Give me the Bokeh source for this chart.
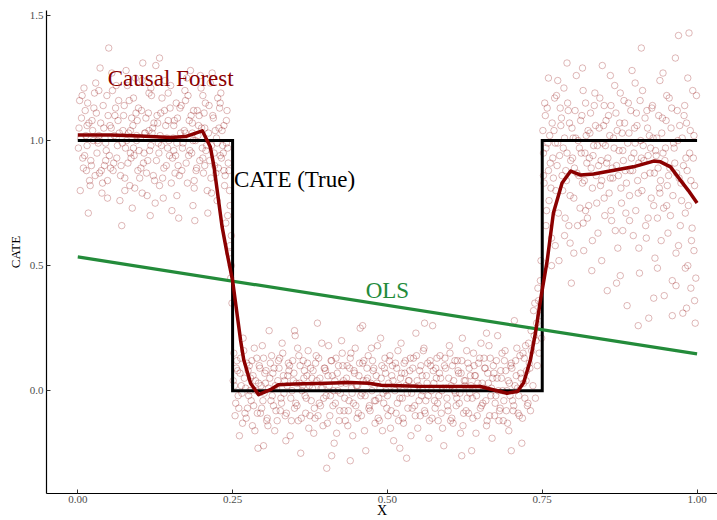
from bokeh.plotting import figure
from bokeh.models import ColumnDataSource, FixedTicker, Range1d
from bokeh.core.properties import value
from bokeh.embed import file_html
from bokeh.resources import INLINE

# ---- data ----
# scatter of estimated individual effects (hand-estimated sample of the cloud)
left_x = [0.002,0.008,0.012,0.015,0.019,0.023,0.027,0.031,0.034,0.038,
          0.041,0.045,0.048,0.052,0.055,0.058,0.062,0.066,0.069,0.073,
          0.077,0.080,0.084,0.087,0.091,0.095,0.098,0.102,0.105,0.109,
          0.112,0.116,0.119,0.123,0.127,0.130,0.134,0.137,0.141,0.144,
          0.148,0.152,0.155,0.159,0.162,0.166,0.169,0.173,0.177,0.180,
          0.184,0.187,0.191,0.194,0.198,0.202,0.205,0.209,0.212,0.216,
          0.219,0.223,0.226,0.230,0.233,0.237,0.240,0.243,0.246,0.248,
          0.004,0.010,0.017,0.025,0.036,0.043,0.050,0.060,0.071,0.082,
          0.093,0.100,0.114,0.125,0.132,0.146,0.157,0.171,0.182,0.189,
          0.196,0.207,0.214,0.221,0.228,0.235,0.241,0.244,0.247,0.249]
left_y = [1.05,0.93,1.12,0.98,0.84,1.08,1.19,0.95,1.02,0.88,
          1.14,0.99,0.77,1.06,1.27,0.91,1.01,1.16,0.86,1.04,
          0.97,1.22,0.82,1.09,0.94,1.00,1.13,0.89,1.31,1.03,
          0.78,0.96,1.18,1.07,0.92,0.99,1.11,0.85,1.24,1.01,
          0.94,0.72,1.06,1.15,0.90,1.03,0.97,1.20,0.83,1.08,
          0.95,1.12,0.88,1.02,1.26,0.93,1.05,0.80,1.14,0.98,
          1.09,0.87,1.17,0.94,1.04,0.82,0.99,0.91,0.74,0.62,
          0.80,1.21,0.71,1.00,1.29,0.90,1.37,1.10,0.66,1.03,
          1.25,0.85,1.11,0.75,1.33,1.08,0.87,1.01,1.28,0.68,
          1.10,0.96,1.23,0.90,1.05,0.95,1.12,0.55,0.45,0.35]
left2_pts = [(0.001,0.97),(0.006,1.09),(0.009,0.89),(0.013,1.02),(0.016,1.15),(0.021,0.92),(0.024,1.04),(0.028,0.86),(0.030,1.11),(0.033,0.99),
             (0.037,1.07),(0.040,0.83),(0.044,1.01),(0.047,1.18),(0.051,0.94),(0.054,1.05),(0.057,0.88),(0.061,1.13),(0.064,0.98),(0.067,1.03),
             (0.070,0.90),(0.074,1.10),(0.076,0.85),(0.079,1.00),(0.083,1.16),(0.086,0.93),(0.089,1.06),(0.092,0.81),(0.096,1.08),(0.099,0.96),
             (0.103,1.12),(0.106,0.91),(0.108,1.03),(0.111,0.87),(0.115,1.19),(0.118,0.98),(0.121,1.05),(0.124,0.84),(0.128,1.10),(0.131,0.95),
             (0.133,1.02),(0.136,1.17),(0.139,0.89),(0.142,1.06),(0.145,0.97),(0.149,1.13),(0.151,0.83),(0.154,1.01),(0.158,0.94),(0.161,1.09),
             (0.164,0.86),(0.167,1.14),(0.170,0.99),(0.172,1.04),(0.175,0.91),(0.178,1.18),(0.181,0.96),(0.185,1.07),(0.188,0.84),(0.190,1.00),
             (0.193,1.12),(0.197,0.92),(0.200,1.05),(0.203,0.87),(0.206,1.15),(0.208,0.98),(0.211,1.03),(0.215,0.85),(0.218,1.10),(0.220,0.95),
             (0.224,1.01),(0.227,0.89),(0.229,1.13),(0.232,0.93),(0.236,1.06),(0.238,0.86),(0.242,0.97),(0.245,0.80),(0.003,1.16),(0.014,0.88),
             (0.029,1.23),(0.039,0.79),(0.056,1.20),(0.068,0.76),(0.078,1.28),(0.088,0.73),(0.104,1.24),(0.117,0.70),(0.126,1.30),(0.138,0.77),
             (0.150,1.22),(0.163,0.69),(0.176,1.25),(0.186,0.74),(0.199,1.21),(0.210,0.71),(0.217,1.27),(0.225,0.76),(0.231,1.19),(0.239,0.67)]
left3_pts = [(0.005,1.01),(0.011,0.94),(0.018,1.07),(0.022,0.90),(0.026,1.13),(0.032,1.00),(0.035,0.87),(0.042,1.05),(0.046,0.96),(0.049,1.10),
             (0.053,0.89),(0.059,1.02),(0.063,0.93),(0.065,1.08),(0.072,0.99),(0.075,1.14),(0.081,0.91),(0.085,1.04),(0.090,0.97),(0.094,1.11),
             (0.097,0.88),(0.101,1.01),(0.107,0.95),(0.110,1.09),(0.113,0.92),(0.120,1.03),(0.122,0.86),(0.129,1.07),(0.135,0.98),(0.140,1.12),
             (0.143,0.90),(0.147,1.00),(0.153,0.93),(0.156,1.08),(0.160,0.99),(0.165,1.13),(0.168,0.88),(0.174,1.03),(0.179,0.94),(0.183,1.10),
             (0.186,1.00),(0.192,0.89),(0.195,1.06),(0.201,0.97),(0.204,1.11),(0.213,0.92),(0.222,1.04),(0.234,0.98),(0.240,1.08),(0.244,0.88),
             (0.007,1.18),(0.020,0.82),(0.034,1.20),(0.048,0.84),(0.062,1.22),(0.076,0.80),(0.090,1.17),(0.104,0.79),(0.118,1.21),(0.132,0.82),
             (0.146,1.19),(0.160,0.78),(0.174,1.16),(0.188,0.81),(0.202,1.18),(0.216,0.79),(0.230,1.15),(0.242,0.70),(0.246,0.58),(0.248,0.50),
             (0.015,1.06),(0.045,0.92),(0.085,0.95),(0.115,1.04),(0.155,0.96),(0.185,1.03),(0.205,0.90),(0.225,0.99),(0.236,0.88),(0.095,1.02)]
mid_x = [0.252,0.255,0.258,0.261,0.264,0.267,0.270,0.273,0.276,0.279,
         0.282,0.285,0.288,0.291,0.294,0.297,0.300,0.303,0.306,0.309,
         0.312,0.315,0.318,0.321,0.324,0.327,0.330,0.333,0.336,0.339,
         0.342,0.345,0.348,0.351,0.354,0.357,0.360,0.363,0.366,0.369,
         0.372,0.375,0.378,0.381,0.384,0.387,0.390,0.393,0.396,0.399,
         0.402,0.405,0.408,0.411,0.414,0.417,0.420,0.423,0.426,0.429,
         0.432,0.435,0.438,0.441,0.444,0.447,0.450,0.453,0.456,0.459,
         0.462,0.465,0.468,0.471,0.474,0.477,0.480,0.483,0.486,0.489,
         0.492,0.495,0.498,0.501,0.504,0.507,0.510,0.513,0.516,0.519,
         0.522,0.525,0.528,0.531,0.534,0.537,0.540,0.543,0.546,0.549,
         0.552,0.555,0.558,0.561,0.564,0.567,0.570,0.573,0.576,0.579,
         0.582,0.585,0.588,0.591,0.594,0.597,0.600,0.603,0.606,0.609,
         0.612,0.615,0.618,0.621,0.624,0.627,0.630,0.633,0.636,0.639,
         0.642,0.645,0.648,0.651,0.654,0.657,0.660,0.663,0.666,0.669,
         0.672,0.675,0.678,0.681,0.684,0.687,0.690,0.693,0.696,0.699,
         0.702,0.705,0.708,0.711,0.714,0.717,0.720,0.723,0.726,0.729,
         0.732,0.736,0.740,0.743,0.746,0.748,0.745,0.738]
mid_y = [0.15,-0.05,0.08,-0.18,0.02,0.21,-0.09,0.11,-0.02,0.05,
         -0.14,0.17,0.00,-0.23,0.09,-0.07,0.13,0.03,-0.11,0.24,
         -0.04,0.07,-0.16,0.01,0.12,-0.08,0.19,-0.01,-0.20,0.06,
         0.10,-0.12,0.04,0.22,-0.06,0.14,-0.25,0.02,0.08,-0.03,
         0.16,-0.10,0.05,-0.17,0.11,0.27,-0.05,0.01,-0.14,0.09,
         -0.31,0.18,-0.02,0.06,-0.21,0.13,0.00,-0.08,0.20,0.04,
         -0.12,0.10,-0.04,0.15,-0.18,0.07,0.02,-0.09,0.25,-0.01,
         0.12,-0.24,0.05,-0.06,0.17,0.08,-0.13,0.03,-0.03,0.21,
         -0.16,0.09,0.00,-0.10,0.14,0.06,-0.20,0.11,-0.05,0.02,
         0.19,-0.11,0.07,-0.27,0.04,0.13,-0.07,0.01,0.23,-0.15,
         0.08,-0.02,0.16,-0.09,0.03,-0.19,0.10,0.26,-0.04,0.05,
         -0.12,0.14,0.00,-0.22,0.09,-0.06,0.18,0.02,-0.13,0.12,
         -0.03,0.07,-0.17,0.21,0.04,-0.08,0.11,-0.01,-0.24,0.15,
         0.06,-0.10,0.01,0.19,-0.05,0.09,-0.14,0.03,0.13,-0.19,
         0.07,-0.02,0.22,-0.08,0.05,-0.12,0.16,0.00,-0.16,0.10,
         -0.04,0.28,0.06,-0.09,0.14,-0.21,0.03,0.18,-0.06,0.11,
         0.24,0.32,0.20,0.41,0.30,0.52,0.15,0.35]
mid2_pts = [(0.251,0.04),(0.254,-0.10),(0.257,0.12),(0.259,-0.02),(0.262,0.07),(0.266,-0.13),(0.268,0.16),(0.271,0.01),(0.274,-0.07),(0.277,0.10),
            (0.280,-0.04),(0.283,0.06),(0.286,-0.16),(0.289,0.13),(0.292,0.03),(0.295,-0.09),(0.298,0.18),(0.301,-0.01),(0.304,0.08),(0.307,-0.14),
            (0.310,0.05),(0.313,0.14),(0.316,-0.06),(0.319,0.02),(0.322,-0.12),(0.325,0.09),(0.328,-0.03),(0.331,0.15),(0.334,0.04),(0.337,-0.09),
            (0.340,0.11),(0.343,-0.18),(0.346,0.00),(0.349,0.07),(0.352,-0.05),(0.355,0.17),(0.358,0.03),(0.361,-0.11),(0.364,0.12),(0.367,-0.02),
            (0.370,0.06),(0.373,-0.15),(0.376,0.09),(0.379,0.01),(0.382,-0.07),(0.385,0.14),(0.388,-0.10),(0.391,0.05),(0.394,0.19),(0.397,-0.03),
            (0.400,0.08),(0.403,-0.13),(0.406,0.02),(0.409,0.12),(0.412,-0.06),(0.415,0.04),(0.418,-0.17),(0.421,0.10),(0.424,-0.01),(0.427,0.15),
            (0.430,-0.08),(0.433,0.03),(0.436,-0.14),(0.439,0.09),(0.442,0.01),(0.445,-0.05),(0.448,0.17),(0.451,-0.11),(0.454,0.06),(0.457,-0.02),
            (0.460,0.11),(0.463,-0.16),(0.466,0.04),(0.469,0.14),(0.472,-0.08),(0.475,0.00),(0.478,0.09),(0.481,-0.04),(0.484,0.18),(0.487,-0.12),
            (0.490,0.05),(0.493,-0.01),(0.496,0.13),(0.499,-0.07),(0.502,0.03),(0.505,-0.15),(0.508,0.10),(0.511,0.01),(0.514,-0.09),(0.517,0.16),
            (0.520,-0.03),(0.523,0.07),(0.526,-0.13),(0.529,0.12),(0.532,-0.01),(0.535,0.04),(0.538,-0.18),(0.541,0.09),(0.544,-0.06),(0.547,0.14),
            (0.550,0.02),(0.553,-0.10),(0.556,0.06),(0.559,0.17),(0.562,-0.04),(0.565,0.11),(0.568,-0.12),(0.571,0.00),(0.574,0.08),(0.577,-0.07),
            (0.580,0.13),(0.583,-0.02),(0.586,0.05),(0.589,-0.15),(0.592,0.10),(0.595,0.01),(0.598,-0.08),(0.601,0.15),(0.604,-0.11),(0.607,0.04),
            (0.610,-0.01),(0.613,0.12),(0.616,-0.05),(0.619,0.07),(0.622,-0.14),(0.625,0.02),(0.628,0.16),(0.631,-0.09),(0.634,0.06),(0.637,-0.03),
            (0.640,0.10),(0.643,-0.17),(0.646,0.03),(0.649,0.13),(0.652,-0.06),(0.655,0.01),(0.658,0.09),(0.661,-0.12),(0.664,0.18),(0.667,-0.02),
            (0.670,0.05),(0.673,-0.10),(0.676,0.12),(0.679,0.00),(0.682,-0.07),(0.685,0.15),(0.688,-0.04),(0.691,0.08),(0.694,-0.13),(0.697,0.03),
            (0.700,0.11),(0.703,-0.08),(0.706,0.02),(0.709,0.17),(0.712,-0.02),(0.715,0.07),(0.718,-0.11),(0.721,0.13),(0.724,0.04),(0.727,-0.05),
            (0.730,0.09),(0.733,0.16),(0.735,0.02),(0.737,0.22),(0.739,-0.03),(0.741,0.27),(0.742,0.10),(0.744,0.36),(0.747,0.44),(0.749,0.21),
            (0.300,-0.22),(0.350,0.24),(0.410,-0.26),(0.460,0.26),(0.520,-0.23),(0.560,0.27),(0.620,-0.26),(0.660,0.23),(0.700,-0.24),(0.440,-0.28)]
mid3_pts = [(0.253,0.02),(0.256,0.09),(0.260,-0.07),(0.263,0.13),(0.265,-0.01),(0.269,0.05),(0.272,-0.11),(0.275,0.08),(0.278,0.00),(0.281,0.12),
            (0.284,-0.06),(0.287,0.04),(0.290,-0.09),(0.293,0.10),(0.296,0.02),(0.299,-0.04),(0.302,0.07),(0.305,-0.12),(0.308,0.01),(0.311,0.11),
            (0.314,-0.02),(0.317,0.09),(0.320,-0.08),(0.323,0.04),(0.326,0.13),(0.329,-0.05),(0.332,0.06),(0.335,-0.10),(0.338,0.02),(0.341,0.08),
            (0.344,-0.03),(0.347,0.12),(0.350,-0.07),(0.353,0.03),(0.356,-0.12),(0.359,0.10),(0.362,0.00),(0.365,0.05),(0.368,-0.09),(0.371,0.11),
            (0.374,0.02),(0.377,-0.04),(0.380,0.08),(0.383,-0.11),(0.386,0.04),(0.389,0.13),(0.392,-0.06),(0.395,0.01),(0.398,0.09),(0.401,-0.02),
            (0.404,0.06),(0.407,-0.10),(0.410,0.12),(0.413,0.00),(0.416,-0.05),(0.419,0.07),(0.422,-0.12),(0.425,0.03),(0.428,0.10),(0.431,-0.03),
            (0.434,0.05),(0.437,-0.08),(0.440,0.13),(0.443,-0.01),(0.446,0.08),(0.449,-0.06),(0.452,0.02),(0.455,0.11),(0.458,-0.10),(0.461,0.04),
            (0.464,-0.02),(0.467,0.09),(0.470,-0.07),(0.473,0.03),(0.476,0.12),(0.479,-0.04),(0.482,0.06),(0.485,-0.11),(0.488,0.01),(0.491,0.10),
            (0.494,-0.05),(0.497,0.07),(0.500,-0.02),(0.503,0.12),(0.506,-0.08),(0.509,0.04),(0.512,0.00),(0.515,0.09),(0.518,-0.12),(0.521,0.05),
            (0.524,-0.03),(0.527,0.11),(0.530,0.02),(0.533,-0.07),(0.536,0.08),(0.539,-0.01),(0.542,0.13),(0.545,-0.10),(0.548,0.04),(0.551,-0.04),
            (0.554,0.10),(0.557,0.00),(0.560,-0.08),(0.563,0.06),(0.566,-0.02),(0.569,0.12),(0.572,-0.11),(0.575,0.03),(0.578,0.09),(0.581,-0.05),
            (0.584,0.07),(0.587,-0.09),(0.590,0.01),(0.593,0.13),(0.596,-0.03),(0.599,0.05),(0.602,-0.12),(0.605,0.10),(0.608,0.00),(0.611,-0.06),
            (0.614,0.08),(0.617,-0.01),(0.620,0.12),(0.623,-0.09),(0.626,0.04),(0.629,-0.03),(0.632,0.09),(0.635,0.02),(0.638,-0.11),(0.641,0.06),
            (0.644,-0.02),(0.647,0.11),(0.650,-0.07),(0.653,0.03),(0.656,0.13),(0.659,-0.04),(0.662,0.07),(0.665,-0.10),(0.668,0.01),(0.671,0.10),
            (0.674,-0.05),(0.677,0.05),(0.680,-0.12),(0.683,0.08),(0.686,0.00),(0.689,0.12),(0.692,-0.08),(0.695,0.04),(0.698,-0.02),(0.701,0.09),
            (0.704,-0.06),(0.707,0.12),(0.710,0.01),(0.713,-0.10),(0.716,0.05),(0.719,0.15),(0.722,-0.03),(0.725,0.08),(0.728,0.19),(0.731,-0.08)]
right_x = [0.752,0.755,0.757,0.760,0.762,0.765,0.767,0.770,0.772,0.775,
           0.777,0.780,0.782,0.785,0.787,0.790,0.792,0.795,0.797,0.800,
           0.802,0.805,0.807,0.810,0.812,0.815,0.817,0.820,0.822,0.825,
           0.827,0.830,0.832,0.835,0.837,0.840,0.842,0.845,0.847,0.850,
           0.852,0.855,0.857,0.860,0.862,0.865,0.867,0.870,0.872,0.875,
           0.877,0.880,0.882,0.885,0.887,0.890,0.892,0.895,0.897,0.900,
           0.902,0.905,0.907,0.910,0.912,0.915,0.917,0.920,0.922,0.925,
           0.927,0.930,0.932,0.935,0.937,0.940,0.942,0.945,0.947,0.950,
           0.952,0.955,0.957,0.960,0.962,0.965,0.967,0.970,0.972,0.975,
           0.977,0.980,0.982,0.985,0.987,0.990,0.992,0.995,0.997,0.999,
           0.760,0.790,0.820,0.850,0.880,0.910,0.940,0.970,0.990,0.795]
right_y = [0.95,1.10,0.72,0.88,1.02,0.61,0.93,1.17,0.80,0.99,
           0.52,1.06,0.86,1.21,0.69,0.95,1.12,0.78,0.43,1.01,
           0.89,1.26,0.66,0.97,1.08,0.83,0.56,1.15,0.91,0.74,
           1.03,0.48,0.94,1.19,0.86,0.63,1.05,0.92,1.30,0.77,
           0.98,0.40,1.10,0.85,0.68,1.01,1.22,0.90,0.57,1.07,
           0.81,0.96,1.16,0.71,0.34,1.03,0.88,1.28,0.62,0.99,
           1.11,0.79,0.47,0.93,1.20,0.86,0.66,1.05,0.29,0.97,
           1.13,0.74,0.53,1.01,0.89,1.24,0.60,0.95,0.38,1.08,
           0.82,1.17,0.70,0.44,0.99,1.33,0.87,0.58,1.06,0.76,
           0.31,1.14,0.93,0.50,1.43,0.84,0.65,1.02,0.27,1.18,
           1.25,1.31,0.72,1.14,0.64,1.37,0.79,1.42,0.41,0.59]
right2_pts = [(0.751,1.04),(0.753,0.83),(0.756,0.97),(0.758,1.13),(0.761,0.76),(0.763,0.91),(0.766,1.07),(0.768,0.85),(0.771,0.99),(0.773,1.18),
              (0.776,0.71),(0.778,0.94),(0.781,1.09),(0.783,0.80),(0.786,1.01),(0.788,0.88),(0.791,1.15),(0.793,0.66),(0.796,0.92),(0.798,1.05),
              (0.801,0.77),(0.803,1.12),(0.806,0.87),(0.808,1.00),(0.811,0.73),(0.813,0.95),(0.816,1.20),(0.818,0.84),(0.821,1.02),(0.823,0.69),
              (0.826,0.93),(0.828,1.11),(0.831,0.81),(0.833,0.98),(0.836,1.06),(0.838,0.75),(0.841,0.90),(0.843,1.17),(0.846,0.84),(0.848,0.99),
              (0.851,0.70),(0.853,1.08),(0.856,0.93),(0.858,0.79),(0.861,1.14),(0.863,0.89),(0.866,0.97),(0.868,0.64),(0.871,1.04),(0.873,0.86),
              (0.876,1.19),(0.878,0.75),(0.881,0.92),(0.883,1.07),(0.886,0.83),(0.888,0.99),(0.891,0.68),(0.893,1.12),(0.896,0.88),(0.898,0.95),
              (0.901,0.72),(0.903,1.06),(0.906,0.91),(0.908,1.16),(0.911,0.80),(0.913,0.98),(0.916,1.09),(0.918,0.61),(0.921,0.94),(0.923,1.02),
              (0.926,0.77),(0.928,1.14),(0.931,0.87),(0.933,0.96),(0.936,0.69),(0.938,1.10),(0.941,0.84),(0.943,1.03),(0.946,0.73),(0.948,0.92),
              (0.951,1.18),(0.953,0.63),(0.956,0.89),(0.958,1.05),(0.961,0.78),(0.963,0.97),(0.966,0.55),(0.968,1.12),(0.971,0.85),(0.973,0.66),
              (0.976,1.01),(0.978,0.90),(0.981,0.49),(0.983,1.07),(0.986,0.74),(0.988,0.95),(0.991,0.60),(0.993,1.20),(0.996,0.82),(0.998,0.45)]
right3_pts = [(0.752,0.86),(0.754,1.15),(0.759,0.99),(0.764,0.81),(0.769,1.04),(0.774,0.90),(0.779,1.13),(0.784,0.97),(0.789,0.84),(0.794,1.07),
              (0.799,0.93),(0.804,1.01),(0.809,0.86),(0.814,1.10),(0.819,0.95),(0.824,1.04),(0.829,0.89),(0.834,1.14),(0.839,0.98),(0.844,0.82),
              (0.849,1.06),(0.854,0.91),(0.859,1.02),(0.864,0.85),(0.869,1.11),(0.874,0.96),(0.879,1.03),(0.884,0.88),(0.889,1.15),(0.894,0.93),
              (0.899,1.05),(0.904,0.84),(0.909,1.00),(0.914,0.92),(0.919,1.12),(0.924,0.87),(0.929,1.01),(0.934,0.94),(0.939,0.81),(0.944,1.09),
              (0.949,0.97),(0.954,0.86),(0.959,1.13),(0.964,0.91),(0.969,1.00),(0.974,0.83),(0.979,1.10),(0.984,0.88),(0.989,1.04),(0.994,0.93),
              (0.756,0.66),(0.771,0.58),(0.786,0.62),(0.801,0.55),(0.816,0.67),(0.831,0.60),(0.846,0.52),(0.861,0.72),(0.876,0.46),(0.891,0.78),
              (0.906,0.57),(0.921,0.69),(0.936,0.49),(0.951,0.74),(0.966,0.42),(0.981,0.71),(0.996,0.36),(0.775,1.24),(0.815,1.29),(0.860,1.26),
              (0.900,1.23),(0.945,1.27),(0.985,1.25),(0.995,0.56),(0.983,0.33),(0.960,0.30),(0.930,0.37),(0.905,0.26),(0.870,0.43),(0.765,0.50)]

# true CATE (step function)
true_x = [0.0, 0.25, 0.25, 0.75, 0.75, 1.0]
true_y = [1.0, 1.0, 0.0, 0.0, 1.0, 1.0]

# OLS fit
ols_x = [0.0, 1.0]
ols_y = [0.535, 0.147]

# causal forest prediction curve
cf_x = [0.0, 0.053, 0.101, 0.15, 0.174, 0.201, 0.214, 0.22, 0.233, 0.241, 0.25,
        0.263, 0.268, 0.279, 0.292, 0.311, 0.324, 0.35, 0.40, 0.44, 0.47, 0.49,
        0.55, 0.65, 0.693, 0.71, 0.72, 0.731, 0.739, 0.747, 0.758, 0.768, 0.782,
        0.796, 0.812, 0.833, 0.897, 0.93, 0.941, 0.957, 0.973, 0.986, 1.0]
cf_y = [1.022, 1.022, 1.018, 1.012, 1.016, 1.039, 0.975, 0.895, 0.656, 0.55, 0.44,
        0.20, 0.124, 0.03, -0.016, 0.004, 0.024, 0.027, 0.030, 0.033, 0.030, 0.022,
        0.018, 0.017, -0.01, -0.003, 0.032, 0.124, 0.23, 0.36, 0.52, 0.71, 0.83,
        0.878, 0.862, 0.866, 0.895, 0.918, 0.915, 0.895, 0.842, 0.80, 0.75]

# annotations
label_text = ["Causal Forest", "CATE (True)", "OLS"]
label_x = [0.15, 0.35, 0.50]
label_y = [1.25, 0.845, 0.40]
label_color = ["#8b0000", "#000000", "#238b3a"]

x_ticks = [0.0, 0.25, 0.5, 0.75, 1.0]
x_tick_labels = ["0.00", "0.25", "0.50", "0.75", "1.00"]
y_ticks = [0.0, 0.5, 1.0, 1.5]
y_tick_labels = ["0.0", "0.5", "1.0", "1.5"]

SERIF = "Liberation Serif"

p = figure(width=717, height=520, output_backend="svg", toolbar_location=None,
           x_range=Range1d(-0.0505, 1.033), y_range=Range1d(-0.411, 1.52),
           min_border_left=46, min_border_right=0, min_border_top=10, min_border_bottom=26,
           background_fill_color="white", border_fill_color="white")
p.outline_line_color = None
p.grid.visible = False

extra = left2_pts + left3_pts + mid2_pts + mid3_pts + right2_pts + right3_pts
pts_x = left_x + mid_x + right_x + [q[0] for q in extra]
pts_y = left_y + mid_y + right_y + [q[1] for q in extra]
p.scatter(pts_x, pts_y, marker="circle", size=6.5, fill_color=None,
          line_color="#8b0000", line_alpha=0.28, line_width=1)

p.line(true_x, true_y, line_color="black", line_width=3, line_join="miter")
p.line(ols_x, ols_y, line_color="#238b3a", line_width=3.2)
p.line(cf_x, cf_y, line_color="#8b0000", line_width=3.5, line_join="round")

src = ColumnDataSource(dict(x=label_x, y=label_y, t=label_text, c=label_color))
p.text(x="x", y="y", text="t", text_color="c", source=src, text_align="center",
       text_baseline="middle", text_font=value(SERIF), text_font_size="23px")

for ax in (p.xaxis[0], p.yaxis[0]):
    ax.axis_line_color = "black"
    ax.axis_line_width = 1.2
    ax.major_tick_in = 4
    ax.major_tick_out = 0
    ax.major_tick_line_color = "#333333"
    ax.minor_tick_line_color = None
    ax.major_label_text_font = SERIF
    ax.major_label_text_font_size = "11px"
    ax.major_label_text_color = "#4d4d4d"
    ax.axis_label_text_font = SERIF
    ax.axis_label_text_font_style = "normal"
    ax.axis_label_text_color = "black"

p.xaxis.ticker = FixedTicker(ticks=x_ticks)
p.xaxis.major_label_overrides = dict(zip(x_ticks, x_tick_labels))
p.yaxis.ticker = FixedTicker(ticks=y_ticks)
p.yaxis.major_label_overrides = dict(zip(y_ticks, y_tick_labels))
p.xaxis.axis_label = "X"
p.xaxis.axis_label_text_font_size = "14px"
p.xaxis.major_label_standoff = 2
p.xaxis.axis_label_standoff = -3
p.yaxis.axis_label = "CATE"
p.yaxis.axis_label_text_font_size = "13px"
p.yaxis.major_label_standoff = 3
p.yaxis.axis_label_standoff = 4

open("out.html", "w").write(file_html(p, INLINE))
